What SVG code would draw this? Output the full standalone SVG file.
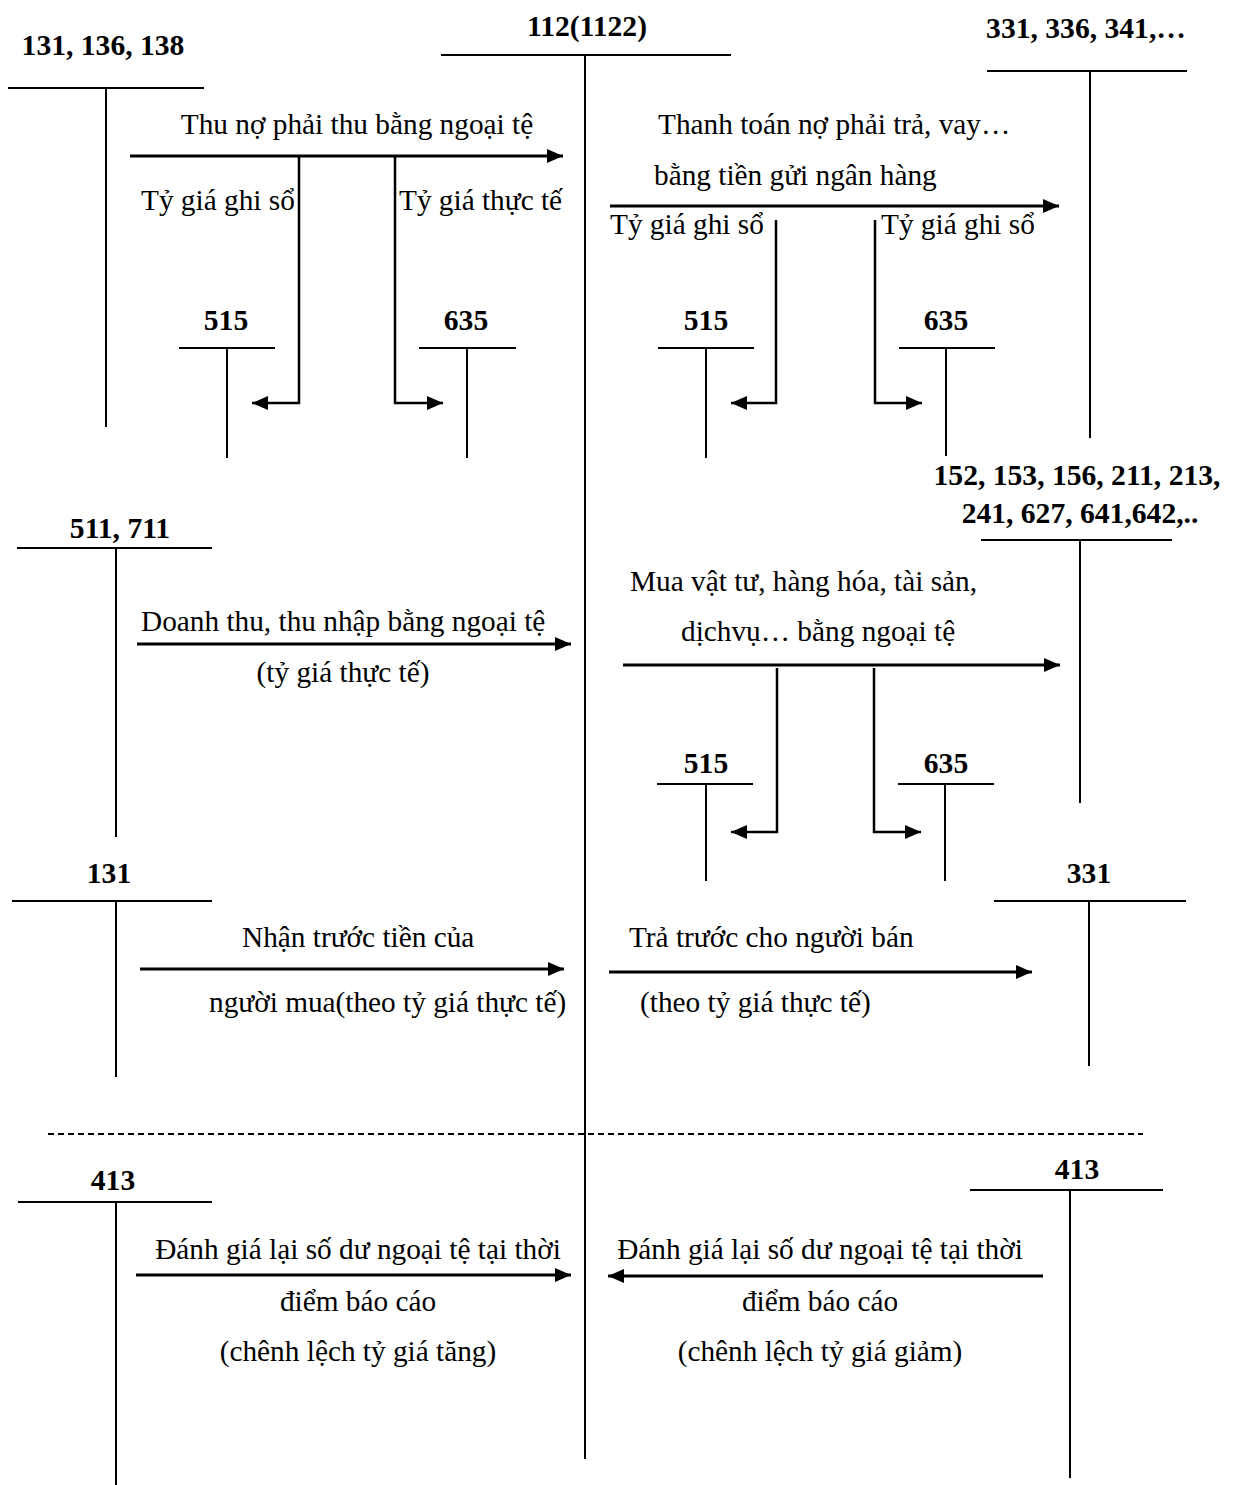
<svg xmlns="http://www.w3.org/2000/svg" width="1237" height="1485" viewBox="0 0 1237 1485">
<style>
text{font-family:"Liberation Serif","Times New Roman",serif;font-size:29.3px;fill:#000}
.b{font-weight:bold;font-size:29.6px}
.m{text-anchor:middle}
.t{stroke:#000;stroke-width:2;fill:none}
.a{stroke:#000;stroke-width:3;fill:none;marker-end:url(#ah)}
.s{stroke:#000;stroke-width:2.5;fill:none;marker-end:url(#ah)}
</style>
<defs>
<marker id="ah" markerUnits="userSpaceOnUse" markerWidth="20" markerHeight="20" viewBox="0 0 20 20" refX="18" refY="10" orient="auto">
<path d="M2,3 L18,10 L2,17 Z" fill="#000"/>
</marker>
</defs>
<rect width="1237" height="1485" fill="#fff"/>

<g id="acc-112">
<text class="b m" x="587" y="36">112(1122)</text>
<path class="t" d="M441,55 H731 M585,55 V1459"/>
</g>
<g id="acc-131-136-138">
<text class="b m" x="103" y="55">131, 136, 138</text>
<path class="t" d="M8,88 H204 M106,88 V427"/>
</g>
<g id="acc-515-a">
<text class="b m" x="226" y="330">515</text>
<path class="t" d="M179,348 H275 M227,348 V458"/>
</g>
<g id="acc-635-a">
<text class="b m" x="466" y="330">635</text>
<path class="t" d="M419,348 H516 M467,348 V458"/>
</g>
<g id="acc-331-336-341">
<text class="b m" x="1086" y="38">331, 336, 341,…</text>
<path class="t" d="M987,71 H1187 M1090,71 V438"/>
</g>
<g id="acc-515-b">
<text class="b m" x="706" y="330">515</text>
<path class="t" d="M658,348 H754 M706,348 V458"/>
</g>
<g id="acc-635-b">
<text class="b m" x="946" y="330">635</text>
<path class="t" d="M899,348 H995 M946,348 V456"/>
</g>
<g id="acc-152">
<text class="b m" x="1077" y="485">152, 153, 156, 211, 213,</text>
<text class="b m" x="1080" y="523">241, 627, 641,642,..</text>
<path class="t" d="M981,540 H1172 M1080,540 V803"/>
</g>
<g id="acc-511-711">
<text class="b m" x="120" y="538">511, 711</text>
<path class="t" d="M17,548 H212 M116,548 V837"/>
</g>
<g id="acc-515-c">
<text class="b m" x="706" y="773">515</text>
<path class="t" d="M657,784 H753 M706,784 V881"/>
</g>
<g id="acc-635-c">
<text class="b m" x="946" y="773">635</text>
<path class="t" d="M898,784 H994 M945,784 V881"/>
</g>
<g id="acc-131">
<text class="b m" x="109" y="883">131</text>
<path class="t" d="M12,901 H212 M116,901 V1077"/>
</g>
<g id="acc-331">
<text class="b m" x="1089" y="883">331</text>
<path class="t" d="M994,901 H1186 M1089,901 V1066"/>
</g>
<g id="acc-413-left">
<text class="b m" x="113" y="1190">413</text>
<path class="t" d="M18,1202 H212 M116,1202 V1485"/>
</g>
<g id="acc-413-right">
<text class="b m" x="1077" y="1179">413</text>
<path class="t" d="M970,1190 H1163 M1070,1190 V1478"/>
</g>

<g id="connectors">
<path class="a" d="M130,156 H563"/>
<path class="s" d="M299,156 V403 H252"/>
<path class="s" d="M395,156 V403 H443"/>
<path class="a" d="M610,206 H1059"/>
<path class="s" d="M776,220 V403 H731"/>
<path class="s" d="M875,220 V403 H922"/>
<path class="a" d="M137,644 H571"/>
<path class="a" d="M623,665 H1060"/>
<path class="s" d="M777,668 V832 H731"/>
<path class="s" d="M874,668 V832 H921"/>
<path class="a" d="M140,969 H564"/>
<path class="a" d="M609,972 H1032"/>
<path class="a" d="M136,1275 H571"/>
<path class="a" d="M1043,1276 H608"/>
<path d="M48,1134 H1143" stroke="#000" stroke-width="2" stroke-dasharray="6,4" fill="none"/>
</g>

<g id="labels">
<text class="m" x="357" y="134">Thu nợ phải thu bằng ngoại tệ</text>
<text x="141" y="210">Tỷ giá ghi sổ</text>
<text x="399" y="210">Tỷ giá thực tế</text>
<text x="658" y="134">Thanh toán nợ phải trả, vay…</text>
<text x="654" y="185">bằng tiền gửi ngân hàng</text>
<text x="610" y="234">Tỷ giá ghi sổ</text>
<text x="881" y="234">Tỷ giá ghi sổ</text>
<text x="141" y="631">Doanh thu, thu nhập bằng ngoại tệ</text>
<text class="m" x="343" y="682">(tỷ giá thực tế)</text>
<text x="630" y="591">Mua vật tư, hàng hóa, tài sản,</text>
<text x="681" y="641">dịchvụ… bằng ngoại tệ</text>
<text x="242" y="947">Nhận trước tiền của</text>
<text x="209" y="1012">người mua(theo tỷ giá thực tế)</text>
<text x="629" y="947">Trả trước cho người bán</text>
<text x="640" y="1012">(theo tỷ giá thực tế)</text>
<text class="m" x="358" y="1259">Đánh giá lại số dư ngoại tệ tại thời</text>
<text class="m" x="358" y="1311">điểm báo cáo</text>
<text class="m" x="358" y="1361">(chênh lệch tỷ giá tăng)</text>
<text class="m" x="820" y="1259">Đánh giá lại số dư ngoại tệ tại thời</text>
<text class="m" x="820" y="1311">điểm báo cáo</text>
<text class="m" x="820" y="1361">(chênh lệch tỷ giá giảm)</text>
</g>
</svg>
